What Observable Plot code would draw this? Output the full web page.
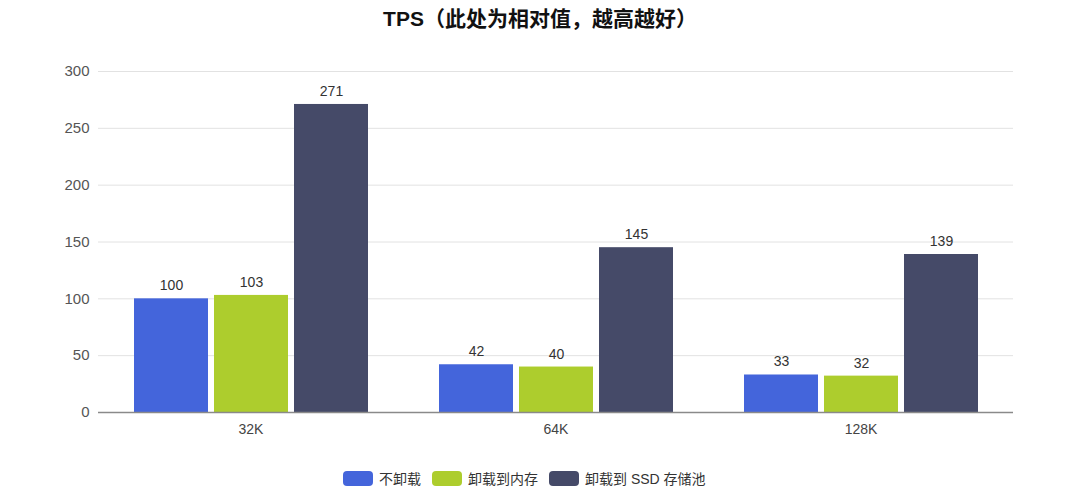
<!DOCTYPE html>
<html><head><meta charset="utf-8">
<script src="https://cdn.jsdelivr.net/npm/d3@7"></script>
<script src="https://cdn.jsdelivr.net/npm/@observablehq/plot@0.6"></script>
<style>
body{margin:0;background:#fff;font-family:"Liberation Sans","Noto Sans CJK SC",sans-serif;}
#title{height:40px;line-height:38px;text-align:center;font-weight:bold;font-size:21px;color:#111;}
#legend{display:flex;align-items:center;padding-left:343px;margin-top:18px;font-size:14px;color:#333;}
.item{display:flex;align-items:center;margin-right:11px;}
.sw{width:30px;height:15px;border-radius:4px;margin-right:6px;}
</style>
</head><body>
<div id="title">TPS（此处为相对值，越高越好）</div>
<div id="chart"></div>
<div id="legend"></div>
<script>
const categories = ["32K", "64K", "128K"];
const series = ["不卸载", "卸载到内存", "卸载到 SSD 存储池"];
const noOffload = [100, 42, 33];
const memOffload = [103, 40, 32];
const ssdOffload = [271, 145, 139];
const colors = ["#4465db", "#adcd2d", "#454a68"];
const yTicks = [0, 50, 100, 150, 200, 250, 300];

const seriesValues = [noOffload, memOffload, ssdOffload];
const data = [];
categories.forEach((c, i) => series.forEach((s, j) => data.push({cat: c, series: s, value: seriesValues[j][i]})));

const chart = Plot.plot({
  width: 1080, height: 410,
  marginLeft: 97, marginRight: 67, marginTop: 31, marginBottom: 38,
  style: {fontFamily: '"Liberation Sans","Noto Sans CJK SC",sans-serif', fontSize: "14px", background: "#fff"},
  fx: {domain: categories, padding: 0, label: null, axis: null},
  x: {domain: series, axis: null, paddingInner: 0.075, paddingOuter: 0.44},
  y: {domain: [0, 300], label: null, axis: null},
  color: {domain: series, range: colors},
  marks: [
    Plot.ruleY(yTicks.filter(t => t > 0), {stroke: "#e2e2e2", strokeWidth: 1}),
    Plot.axisY({ticks: yTicks, tickSize: 0, tickPadding: 9, fontSize: 15, fill: "#555", label: null}),
    Plot.axisFx({anchor: "bottom", tickSize: 0, tickPadding: 12, fontSize: 14, fill: "#444", label: null}),
    Plot.barY(data, {fx: "cat", x: "series", y: "value", fill: "series"}),
    Plot.text(data, {fx: "cat", x: "series", y: "value", text: d => String(d.value), dy: -13, fontSize: 14, fill: "#333"}),
    Plot.ruleY([0], {stroke: "#8a8a8a", strokeWidth: 1.5})
  ]
});
document.getElementById("chart").appendChild(chart);

const legend = document.getElementById("legend");
series.forEach((s, i) => {
  const item = document.createElement("div");
  item.className = "item";
  const sw = document.createElement("div");
  sw.className = "sw";
  sw.style.background = colors[i];
  const label = document.createElement("span");
  label.textContent = s;
  item.appendChild(sw); item.appendChild(label);
  legend.appendChild(item);
});
</script>
</body></html>
